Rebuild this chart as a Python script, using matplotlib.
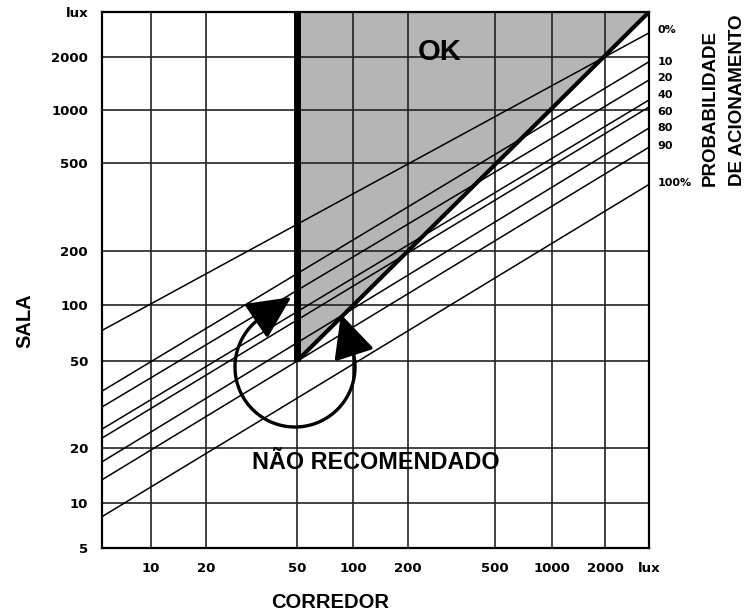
import numpy as np
import matplotlib
matplotlib.use('Agg')
import matplotlib.pyplot as plt

# probability lines (sala lux at left edge / right edge of the corredor axis)
prob_labels = ['0%', '10', '20', '40', '60', '80', '90', '100%']
corredor_ends = [5, 4000]
sala_left = [73, 36.4, 30.8, 24.4, 22.2, 16.8, 13.4, 8.1]
sala_right = [2900, 1880, 1480, 1140, 1040, 790, 615, 400]
label_y = [3030, 1880, 1520, 1215, 975, 790, 625, 405]

# OK region and its border
ok_x = [50, 50, 4000]
ok_y = [50, 4000, 4000]
diag_x = [50, 4000]
diag_y = [50, 4000]
wall_x = [50, 50]
wall_y = [50, 4000]

tick_vals = [5, 10, 20, 50, 100, 200, 500, 1000, 2000, 4000]
tick_text = ['5', '10', '20', '50', '100', '200', '500', '1000', '2000', 'lux']

# the printed chart is not an exact log grid: calibrate the axes on it
scale_vals = [5, 10, 20, 50, 100, 200, 500, 1000, 2000, 4000]
x_pix = [0, 49, 104, 195, 251, 306, 393, 450, 503, 547]
y_pix = [0, 45, 100, 187, 243, 297, 385, 438, 491, 536]


def make_scale(pix):
    lv = np.log10(scale_vals)

    def fwd(v):
        v = np.clip(np.asarray(v, dtype=float), 1e-3, None)
        return np.interp(np.log10(v), lv, pix)

    def inv(p):
        return 10 ** np.interp(np.asarray(p, dtype=float), pix, lv)

    return fwd, inv


fig = plt.figure(figsize=(7.45, 6.15), dpi=100)
ax = fig.add_axes([102 / 745, 67 / 615, 547 / 745, 536 / 615])
ax.set_xscale('function', functions=make_scale(x_pix))
ax.set_yscale('function', functions=make_scale(y_pix))
ax.set_xlim(5, 4000)
ax.set_ylim(5, 4000)

ax.fill(ok_x, ok_y, color='#b5b5b5', lw=0, zorder=1)

for yl, yr in zip(sala_left, sala_right):
    ax.plot(corredor_ends, [yl, yr], color='black', lw=1.1, zorder=3)

ax.plot(diag_x, diag_y, color='black', lw=3, zorder=4, solid_capstyle='butt')
ax.plot(wall_x, wall_y, color='black', lw=5, zorder=4, solid_capstyle='butt')

# ticks and grid
ax.set_xticks(tick_vals[1:], tick_text[1:])
ax.set_yticks(tick_vals, tick_text)
ax.minorticks_off()
ax.tick_params(length=0, pad=10, labelsize=9.5)
for lab in ax.get_xticklabels() + ax.get_yticklabels():
    lab.set_family('DejaVu Sans')
    lab.set_fontweight('bold')
ax.grid(True, color='#222222', lw=1.2)
for s in ax.spines.values():
    s.set_linewidth(1.6)

# probability labels on the right
for lab, yv in zip(prob_labels, label_y):
    ax.text(1.015, yv, lab, transform=ax.get_yaxis_transform(), fontsize=8,
            va='center', ha='left', family='DejaVu Sans', fontweight='bold')

ax.text(0.618, 0.925, 'OK', transform=ax.transAxes, fontsize=21,
        fontweight='bold', family='Liberation Sans', ha='center', va='center', zorder=5)
ax.text(0.5, 0.16, 'NÃO RECOMENDADO', transform=ax.transAxes, fontsize=16.8,
        fontweight='bold', family='Liberation Sans', ha='center', va='center', zorder=5)

# looping double arrow (drawn in pixels relative to the axes)
t = np.radians(np.linspace(124, 378, 120))
cx, cy, rx, ry = 193, 181, 60, 60
arc_x = (cx + rx * np.cos(t)) / 547
arc_y = (cy + ry * np.sin(t)) / 536
ax.plot(arc_x, arc_y, color='black', lw=2.4, transform=ax.transAxes, zorder=5)

head = 36
for ang, sign in [(t[0], -1), (t[-1], 1)]:
    dx, dy = -rx * np.sin(ang) * sign, ry * np.cos(ang) * sign
    n = np.hypot(dx, dy)
    px, py = cx + rx * np.cos(ang), cy + ry * np.sin(ang)
    tip = ((px + head * dx / n) / 547, (py + head * dy / n) / 536)
    ax.annotate('', xy=tip, xytext=(px / 547, py / 536), xycoords='axes fraction',
                arrowprops=dict(arrowstyle='-|>,head_length=27,head_width=13',
                                mutation_scale=1, color='black', lw=2.4,
                                shrinkA=0, shrinkB=0), zorder=5)

# axis titles
fig.text(330 / 745, 1 - 602 / 615, 'CORREDOR', fontsize=14.5, fontweight='bold',
         family='Liberation Sans', ha='center', va='center')
fig.text(25 / 745, 1 - 321 / 615, 'SALA', fontsize=14.5, fontweight='bold',
         family='Liberation Sans', ha='center', va='center', rotation=90)
fig.text(710 / 745, 1 - 186 / 615, 'PROBABILIDADE', fontsize=13.5, fontweight='bold',
         family='Liberation Sans', ha='center', va='bottom', rotation=90)
fig.text(737 / 745, 1 - 186 / 615, 'DE ACIONAMENTO', fontsize=13.5, fontweight='bold',
         family='Liberation Sans', ha='center', va='bottom', rotation=90)

fig.savefig('out.png', dpi=100)
